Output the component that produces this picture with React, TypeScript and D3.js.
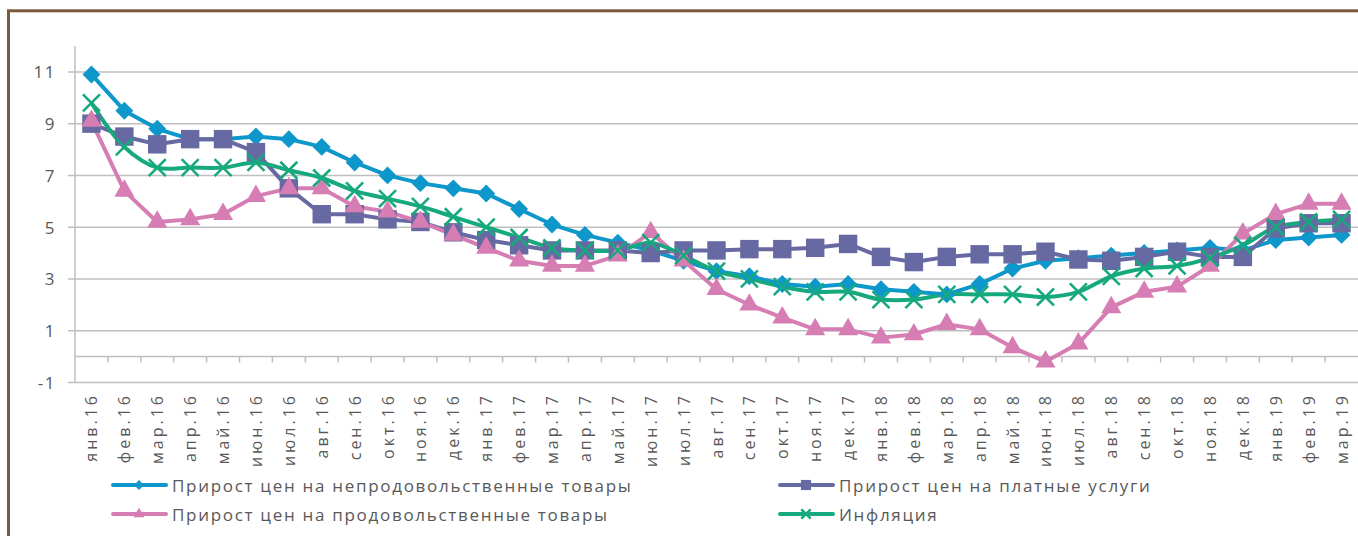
import React from "react";
import * as d3 from "d3";

// месяцы
const months = [
  "янв.16", "фев.16", "мар.16", "апр.16", "май.16", "июн.16", "июл.16", "авг.16", "сен.16", "окт.16", "ноя.16", "дек.16",
  "янв.17", "фев.17", "мар.17", "апр.17", "май.17", "июн.17", "июл.17", "авг.17", "сен.17", "окт.17", "ноя.17", "дек.17",
  "янв.18", "фев.18", "мар.18", "апр.18", "май.18", "июн.18", "июл.18", "авг.18", "сен.18", "окт.18", "ноя.18", "дек.18",
  "янв.19", "фев.19", "мар.19",
];

const nonFood = [
  10.9, 9.5, 8.8, 8.4, 8.4, 8.5, 8.4, 8.1, 7.5, 7.0, 6.7, 6.5,
  6.3, 5.7, 5.1, 4.7, 4.4, 4.1, 3.7, 3.3, 3.1, 2.8, 2.7, 2.8,
  2.6, 2.5, 2.4, 2.8, 3.4, 3.7, 3.8, 3.9, 4.0, 4.1, 4.2, 4.1,
  4.5, 4.6, 4.7,
];
const services = [
  9.0, 8.5, 8.2, 8.4, 8.4, 7.9, 6.5, 5.5, 5.5, 5.3, 5.2, 4.8,
  4.5, 4.3, 4.1, 4.1, 4.1, 4.0, 4.1, 4.1, 4.15, 4.15, 4.2, 4.35,
  3.85, 3.65, 3.85, 3.95, 3.95, 4.05, 3.75, 3.7, 3.85, 4.05, 3.85, 3.85,
  4.95, 5.15, 5.15,
];
const food = [
  9.1, 6.4, 5.2, 5.3, 5.5, 6.2, 6.5, 6.5, 5.8, 5.6, 5.2, 4.7,
  4.2, 3.7, 3.5, 3.5, 3.9, 4.8, 3.7, 2.6, 2.0, 1.5, 1.05, 1.05,
  0.73, 0.85, 1.25, 1.05, 0.35, -0.2, 0.5, 1.9, 2.5, 2.7, 3.5, 4.75,
  5.5, 5.9, 5.9,
];
const inflation = [
  9.8, 8.1, 7.3, 7.3, 7.3, 7.5, 7.2, 6.9, 6.4, 6.1, 5.8, 5.4,
  5.0, 4.6, 4.2, 4.1, 4.1, 4.4, 3.9, 3.3, 3.0, 2.7, 2.5, 2.5,
  2.2, 2.2, 2.4, 2.4, 2.4, 2.3, 2.5, 3.1, 3.4, 3.5, 3.8, 4.3,
  5.0, 5.2, 5.3,
];
const yTicks = [-1, 1, 3, 5, 7, 9, 11];

const seriesNames = [
  "Прирост цен на непродовольственные товары",
  "Прирост цен на платные услуги",
  "Прирост цен на продовольственные товары",
  "Инфляция",
];

const W = 1358;
const H = 536;
const FONT = "'Open Sans', 'Noto Sans', sans-serif";
const TEXT = "#595959";
const GRID = "#BFBFBF";

type Kind = "diamond" | "square" | "triangle" | "x";

const Marker = ({ kind, x, y, color, scale = 1 }: { kind: Kind; x: number; y: number; color: string; scale?: number }) => {
  if (kind === "x") {
    const h = 8.5 * scale;
    return (
      <g transform={`translate(${x},${y})`} stroke={color} strokeWidth={2.6} strokeLinecap="butt">
        <line x1={-h} y1={-h} x2={h} y2={h} />
        <line x1={-h} y1={h} x2={h} y2={-h} />
      </g>
    );
  }
  let path = "";
  let rot = 0;
  if (kind === "diamond") {
    path = d3.symbol(d3.symbolSquare, 160 * scale * scale)()!;
    rot = 45;
  } else if (kind === "square") {
    path = d3.symbol(d3.symbolSquare, 340 * scale * scale)()!;
  } else {
    path = d3.symbol(d3.symbolTriangle, 175 * scale * scale)()!;
  }
  return <path d={path} transform={`translate(${x},${y}) rotate(${rot})`} fill={color} />;
};

const App = () => {
  const x = d3.scaleBand<string>().domain(months).range([75, W]).padding(0);
  const y = d3.scaleLinear().domain([-1, 12]).range([382.4, 46]);
  const cx = (i: number) => x(months[i])! + x.bandwidth() / 2;

  const series: { name: string; values: number[]; color: string; kind: Kind; smooth: boolean }[] = [
    { name: seriesNames[0], values: nonFood, color: "#0E97CB", kind: "diamond", smooth: false },
    { name: seriesNames[1], values: services, color: "#676AA2", kind: "square", smooth: false },
    { name: seriesNames[2], values: food, color: "#D67EB4", kind: "triangle", smooth: false },
    { name: seriesNames[3], values: inflation, color: "#17A97E", kind: "x", smooth: true },
  ];

  const lineFor = (smooth: boolean) =>
    d3
      .line<number>()
      .x((_, i) => cx(i))
      .y((d) => y(d))
      .curve(smooth ? d3.curveCatmullRom.alpha(0.5) : d3.curveLinear);

  const legendPos = [
    { x: 113, y: 485 },
    { x: 780, y: 485 },
    { x: 113, y: 514 },
    { x: 780, y: 514 },
  ];

  return (
    <svg width={W} height={H} style={{ position: "absolute", left: 0, top: 0 }} fontFamily={FONT}>
      <rect x={0} y={0} width={W} height={H} fill="#fff" />
      {/* рамка */}
      <rect x={8.5} y={10.8} width={W + 20} height={H + 20} fill="#fff" stroke="#7B5A3C" strokeWidth={3} />

      {/* сетка */}
      {yTicks.map((t) => (
        <line key={t} x1={68} x2={W} y1={y(t)} y2={y(t)} stroke={GRID} strokeWidth={1.5} />
      ))}
      <line x1={75} x2={75} y1={y(12)} y2={y(-1)} stroke={GRID} strokeWidth={1.5} />
      <line x1={75} x2={W} y1={y(0)} y2={y(0)} stroke={GRID} strokeWidth={1.5} />
      {months.map((m, i) =>
        i === 0 ? null : (
          <line key={m} x1={x(m)!} x2={x(m)!} y1={y(0)} y2={y(0) + 6} stroke={GRID} strokeWidth={1.5} />
        )
      )}

      {/* подписи осей */}
      {yTicks.map((t) => (
        <text key={t} x={56} y={y(t)} textAnchor="end" dominantBaseline="central" fontSize={17} letterSpacing={1.5} fill={TEXT}>
          {t}
        </text>
      ))}
      {months.map((m, i) => (
        <text
          key={m}
          transform={`translate(${cx(i)},393) rotate(-90)`}
          textAnchor="end"
          dominantBaseline="central"
          fontSize={16}
          letterSpacing={3}
          fill={TEXT}
        >
          {m}
        </text>
      ))}

      {/* линии */}
      {series.map((s) => (
        <path key={s.name} d={lineFor(s.smooth)(s.values)!} fill="none" stroke={s.color} strokeWidth={4} strokeLinejoin="round" />
      ))}
      {series.map((s) => (
        <g key={s.name + "-m"}>
          {s.values.map((v, i) => (
            <Marker key={i} kind={s.kind} x={cx(i)} y={y(v)} color={s.color} />
          ))}
        </g>
      ))}

      {/* легенда */}
      {series.map((s, i) => {
        const p = legendPos[i];
        return (
          <g key={s.name + "-l"}>
            <line x1={p.x} x2={p.x + 53} y1={p.y} y2={p.y} stroke={s.color} strokeWidth={4} strokeLinecap="round" />
            <Marker kind={s.kind} x={p.x + 26} y={p.y} color={s.color} scale={0.55} />
            <text x={p.x + 59} y={p.y} dominantBaseline="central" fontSize={17} letterSpacing={1.7} fill={TEXT}>
              {s.name}
            </text>
          </g>
        );
      })}
    </svg>
  );
};

export default App;
